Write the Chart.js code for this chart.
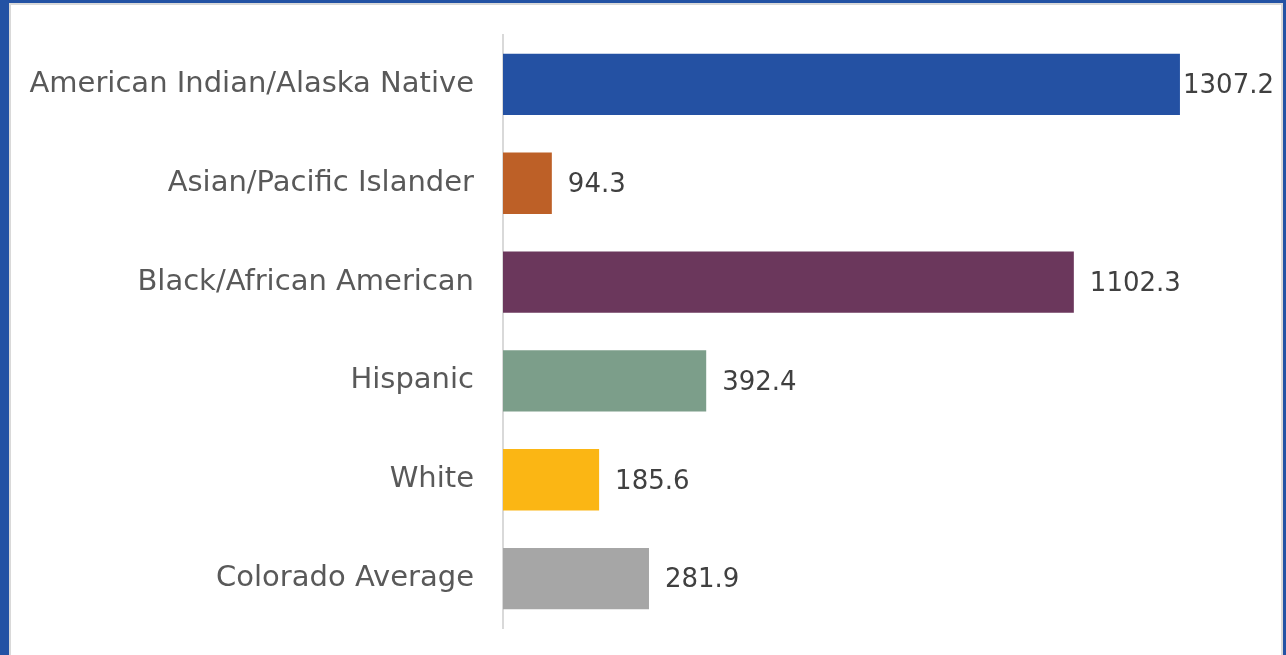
<!DOCTYPE html>
<html>
<head>
<meta charset="utf-8">
<script src="https://cdn.jsdelivr.net/npm/chart.js@4/dist/chart.umd.min.js"></script>
<style>
  html, body { margin: 0; padding: 0; }
  body { width: 1286px; height: 655px; background: #2352a4; position: relative; overflow: hidden; }
  .frame {
    position: absolute; left: 9px; top: 3px; width: 1274px; height: 652px;
    box-sizing: border-box; background: #fff;
    border-left: 2px solid #d9d9d9; border-top: 2px solid #d9d9d9; border-right: 2px solid #d9d9d9;
  }
  #chart { position: absolute; left: 0; top: 0; }
</style>
</head>
<body>
<div class="frame"></div>
<canvas id="chart" width="1286" height="655"></canvas>
<script>
// categories and rates
const categories = [
  'American Indian/Alaska Native',
  'Asian/Pacific Islander',
  'Black/African American',
  'Hispanic',
  'White',
  'Colorado Average'
];
const rates = [1307.2, 94.3, 1102.3, 392.4, 185.6, 281.9];
const barColors = ['#2451a3', '#bd6027', '#6b375c', '#7c9e8a', '#fbb614', '#a6a6a6'];

//draws the number just right of each bar
const valueLabels = {
  id: 'valueLabels',
  afterDatasetsDraw(chart) {
    const ctx = chart.ctx;
    const meta = chart.getDatasetMeta(0);
    ctx.save();
    ctx.font = '26px "DejaVu Sans", sans-serif';
    ctx.fillStyle = '#404040';
    ctx.textBaseline = 'middle';
    ctx.textAlign = 'left';
    meta.data.forEach((bar, i) => {
      const txt = rates[i].toFixed(1);
      const w = ctx.measureText(txt).width;
      // keep the label inside the canvas
      const x = Math.min(bar.x + 16, chart.width - w - 12);
      ctx.fillText(txt, x, bar.y + 2);
    });
    ctx.restore();
  }
};

new Chart(document.querySelector('#chart').getContext('2d'), {
  type: 'bar',
  data: {
    labels: categories,
    datasets: [{
      data: rates,
      backgroundColor: barColors,
      borderWidth: 0,
      barPercentage: 0.62,
      categoryPercentage: 1
    }]
  },
  options: {
    indexAxis: 'y',
    responsive: false,
    animation: false,
    layout: { padding: { top: 35, bottom: 27, right: 58, left: 0 } },
    plugins: {
      legend: { display: false },
      tooltip: { enabled: false }
    },
    scales: {
      x: {
        display: false,
        min: 0,
        max: 1400
      },
      y: {
        // fixed label column, and no extra label padding above/below the plot
        afterFit: (scale) => {
          scale.width = 503;
          scale.paddingTop = 0;
          scale.paddingBottom = 0;
        },
        grid: { display: false, drawTicks: false },
        border: { display: true, color: '#d9d9d9', width: 2 },
        ticks: {
          padding: 29,
          color: '#595959',
          font: { family: '"DejaVu Sans", sans-serif', size: 29 }
        }
      }
    }
  },
  plugins: [valueLabels]
});
</script>
</body>
</html>
